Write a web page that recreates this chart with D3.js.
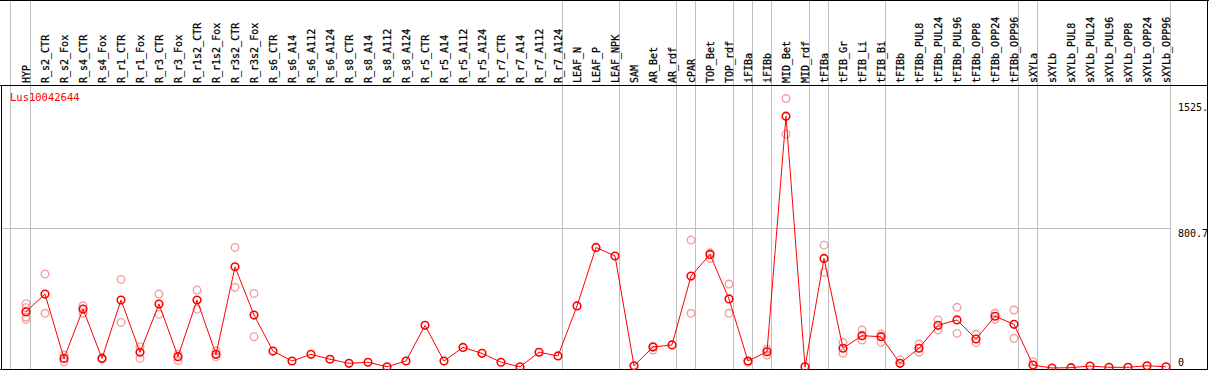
<!DOCTYPE html>
<html>
<head>
<meta charset="utf-8">
<script src="https://cdn.jsdelivr.net/npm/d3@7"></script>
<style>
  html, body { margin: 0; padding: 0; background: #fff; }
  svg { display: block; }
  text { font-family: "DejaVu Sans Mono", monospace; font-size: 10px; }
</style>
</head>
<body>
<svg id="chart" width="1209" height="370"></svg>
<script>
const categories = ["HYP","R_s2_CTR","R_s2_Fox","R_s4_CTR","R_s4_Fox","R_r1_CTR","R_r1_Fox","R_r3_CTR","R_r3_Fox","R_r1s2_CTR","R_r1s2_Fox","R_r3s2_CTR","R_r3s2_Fox","R_s6_CTR","R_s6_A14","R_s6_A112","R_s6_A124","R_s8_CTR","R_s8_A14","R_s8_A112","R_s8_A124","R_r5_CTR","R_r5_A14","R_r5_A112","R_r5_A124","R_r7_CTR","R_r7_A14","R_r7_A112","R_r7_A124","LEAF_N","LEAF_P","LEAF_NPK","SAM","AR_Bet","AR_rdf","cPAR","TOP_Bet","TOP_rdf","iFIBa","iFIBb","MID_Bet","MID_rdf","tFIBa","tFIB_Gr","tFIB_Li","tFIB_Bi","tFIBb","tFIBb_PUL8","tFIBb_PUL24","tFIBb_PUL96","tFIBb_OPP8","tFIBb_OPP24","tFIBb_OPP96","sXYLa","sXYLb","sXYLb_PUL8","sXYLb_PUL24","sXYLb_PUL96","sXYLb_OPP8","sXYLb_OPP24","sXYLb_OPP96"];

const meanValues = [322,423,55,337,55,389,90,366,65,389,78,579,303,97,40,78,50,27,33,7,40,244,40,118,84,33,7,90,69,355,690,641,13,120,132,526,650,395,40,93,1441,7,627,113,185,179,27,113,244,275,166,296,250,17,0,2,11,4,4,13,7];

const replicateValues = [
  [368,345,292,278],[538,313],[74,36],[356,313],[58,52],[507,261],[122,55],[423,307],[78,42],[446,336],[97,65],[690,462],[427,179],
  [],[],[],[],[],[],[],[],[],[],[],[],[],[],[],[],[],[],[],[],
  [103,125],[],[732,313],[659,627],[480,313],[33],[107,74],[1542,1338],[],[703,547],[147,84],[217,160],[194,147],
  [46],[137,90],[275,217],[347,198],[193,145],[313,279],[332,170],[36],[],[],[],[],[],[],[]
];

const groupEnds = ["HYP","R_r7_A124","LEAF_NPK","AR_rdf","cPAR","TOP_rdf","iFIBa","iFIBb","MID_rdf","tFIBa","tFIB_Bi","tFIBb_OPP96","sXYLa","sXYLb_OPP96"];

const geneLabel = "Lus10042644";
const tickValues = [1525, 800.7, 0];
const tickLabels = ["1525.", "800.7", "0"];
const gridValues = [800.7];

const svg = d3.select("#chart");
const W = 1209, H = 370;
const headerY = 85;

const x = d3.scalePoint().domain(categories).range([26, 1166]).padding(0);
const y = d3.scaleLinear().domain([0, 1525]).range([368, 101.5]);

const grey = "#c0c0c0";

// horizontal grid
svg.append("g").selectAll("line").data(gridValues).join("line")
  .attr("x1", 1).attr("x2", 1170)
  .attr("y1", d => Math.round(y(d)) + 0.5).attr("y2", d => Math.round(y(d)) + 0.5)
  .attr("stroke", grey).attr("stroke-width", 1);

// group separators
const sepX = [x(categories[0]) - 15.5].concat(groupEnds.map(c => x(c) + 4.5));
svg.append("g").selectAll("line").data(sepX).join("line")
  .attr("x1", d => d).attr("x2", d => d)
  .attr("y1", 0).attr("y2", 369)
  .attr("stroke", grey).attr("stroke-width", 1);

// frame
svg.append("line").attr("x1", 0).attr("x2", W).attr("y1", 0.5).attr("y2", 0.5).attr("stroke", "#000");
svg.append("line").attr("x1", 0).attr("x2", 1208).attr("y1", headerY + 0.5).attr("y2", headerY + 0.5).attr("stroke", "#000");
svg.append("line").attr("x1", 0).attr("x2", 1208).attr("y1", 369.5).attr("y2", 369.5).attr("stroke", "#000");
svg.append("line").attr("x1", 1.5).attr("x2", 1.5).attr("y1", headerY).attr("y2", 370).attr("stroke", "#000");
svg.append("line").attr("x1", 1207.5).attr("x2", 1207.5).attr("y1", 0).attr("y2", 370).attr("stroke", "#000");

// category labels (rotated)
svg.append("g").selectAll("text").data(categories).join("text")
  .attr("transform", d => `translate(${x(d) + 4},83) rotate(-90)`)
  .attr("text-anchor", "start")
  .attr("fill", "#000")
  .attr("stroke", "#000").attr("stroke-width", 0.25)
  .text(d => d);

// gene label
svg.append("text").attr("x", 10).attr("y", 101).attr("fill", "#ff0000")
  .style("font-size", "10.5px").text(geneLabel);

// y tick labels
svg.append("g").selectAll("text").data(tickValues).join("text")
  .attr("x", 1178)
  .attr("y", d => Math.min(y(d) + 9, 366))
  .attr("fill", "#000")
  .text((d, i) => tickLabels[i]);

// replicate points
const reps = [];
replicateValues.forEach((arr, i) => arr.forEach(v => reps.push({c: categories[i], v})));
svg.append("g").selectAll("circle").data(reps).join("circle")
  .attr("cx", d => x(d.c)).attr("cy", d => y(d.v)).attr("r", 3.8)
  .attr("fill", "none").attr("stroke", "#f0a0a0").attr("stroke-width", 1.4);

// mean points
const means = categories.map((c, i) => ({c, v: meanValues[i]}));
svg.append("g").selectAll("circle").data(means).join("circle")
  .attr("cx", d => x(d.c)).attr("cy", d => y(d.v)).attr("r", 3.8)
  .attr("fill", "none").attr("stroke", "#ff0000").attr("stroke-width", 1.6);

// line
const line = d3.line().x(d => x(d.c)).y(d => y(d.v));
svg.append("path").datum(means).attr("d", line)
  .attr("fill", "none").attr("stroke", "#ff0000").attr("stroke-width", 1);
</script>
</body>
</html>
